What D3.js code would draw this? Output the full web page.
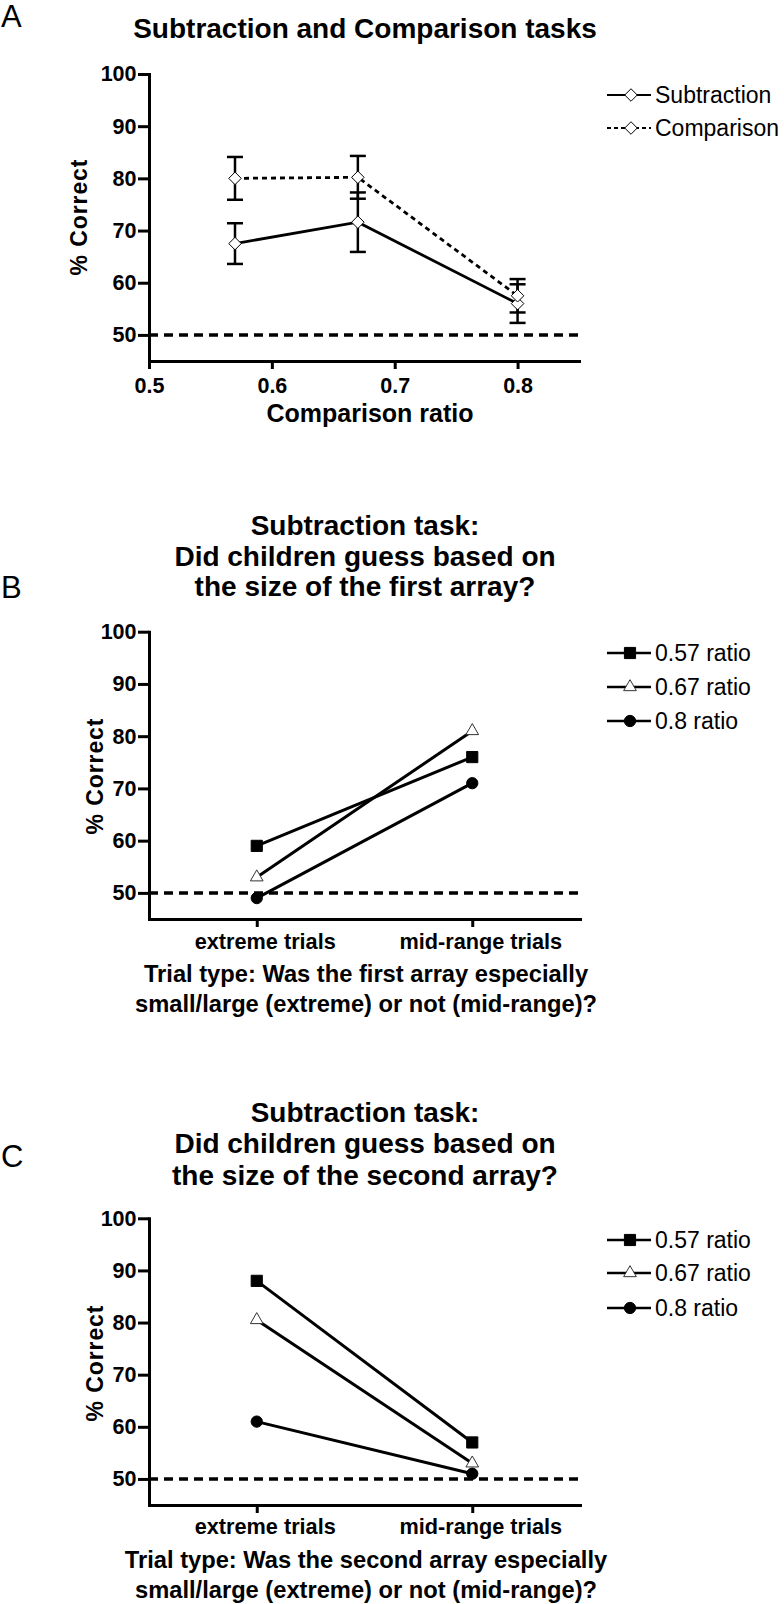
<!DOCTYPE html>
<html><head><meta charset="utf-8">
<script src="https://cdn.jsdelivr.net/npm/d3@7"></script>
<style>
body{margin:0;background:#fff}
text{font-family:"Liberation Sans",Arial,Helvetica,sans-serif;fill:#000}
</style>
</head><body>
<svg id="chart" width="784" height="1604"></svg>
<script>
// ---------- Data ----------
const comparisonRatios = [0.57, 0.67, 0.8];
const subtractionMean = [67.5, 71.6, 56.0];
const subtractionErr  = [3.9, 5.7, 3.7];
const comparisonMean  = [80.0, 80.2, 57.5];
const comparisonErr   = [4.1, 4.1, 3.2];
const xTicksA = [0.5, 0.6, 0.7, 0.8];
const yTicks = [50, 60, 70, 80, 90, 100];
const chanceLevel = 50;

const trialTypes = ["extreme trials", "mid-range trials"];
const ratioLabels = ["0.57 ratio", "0.67 ratio", "0.8 ratio"];
const firstArray057 = [59, 76];
const firstArray067 = [53, 81];
const firstArray08  = [49, 71];
const secondArray057 = [88, 57];
const secondArray067 = [80.5, 53];
const secondArray08  = [61, 51];

const svg = d3.select("#chart");
const BOLD = "bold";
const axisW = 3;
const tickFont = 21.5;

function styleAxis(g) {
  g.select(".domain").attr("stroke", "#000").attr("stroke-width", axisW).attr("stroke-linecap", "square");
  g.selectAll(".tick line").attr("stroke", "#000").attr("stroke-width", axisW);
  g.selectAll(".tick text").attr("font-size", tickFont).attr("font-weight", BOLD).attr("fill", "#000")
    .attr("font-family", '"Liberation Sans",Arial,sans-serif');
}

function titleLines(lines, baselines, cx) {
  lines.forEach((t, i) => {
    svg.append("text").attr("x", cx).attr("y", baselines[i]).attr("text-anchor", "middle")
      .attr("font-size", 28).attr("font-weight", BOLD).text(t);
  });
}
function panelLetter(l, y) {
  svg.append("text").attr("x", 1).attr("y", y).attr("font-size", 31).attr("font-weight", 300).text(l);
}
function yTitle(x, cy) {
  svg.append("text").attr("transform", `translate(${x},${cy}) rotate(-90)`).attr("text-anchor", "middle")
    .attr("font-size", 23).attr("font-weight", BOLD).attr("letter-spacing", 0.9).text("% Correct");
}

// ---------- Panel A ----------
panelLetter("A", 27);
titleLines(["Subtraction and Comparison tasks"], [38], 365);

const xA = d3.scaleLinear().domain([0.5, 0.85]).range([149, 579]);
const yA = d3.scaleLinear().domain([45, 100]).range([361, 74]);

svg.append("g").attr("transform", "translate(149,0)")
  .call(d3.axisLeft(yA).tickValues(yTicks).tickSize(11).tickSizeOuter(0).tickPadding(1.5))
  .call(styleAxis);
svg.append("g").attr("transform", "translate(0,361)")
  .call(d3.axisBottom(xA).tickValues(xTicksA).tickSize(8).tickSizeOuter(0).tickPadding(8.4).tickFormat(d3.format(".1f")))
  .call(styleAxis);

svg.append("line").attr("x1", 149).attr("x2", 580).attr("y1", yA(chanceLevel)).attr("y2", yA(chanceLevel))
  .attr("stroke", "#000").attr("stroke-width", 3.5).attr("stroke-dasharray", "9,6");

yTitle(87, 217);
svg.append("text").attr("x", 370).attr("y", 422).attr("text-anchor", "middle")
  .attr("font-size", 25).attr("font-weight", BOLD).text("Comparison ratio");

const diamond = d3.symbol().type(d3.symbolDiamond2).size(100);
function seriesA(means, errs, dash) {
  const pts = comparisonRatios.map((r, i) => ({x: r, y: means[i], e: errs[i]}));
  svg.append("path").datum(pts)
    .attr("d", d3.line().x(d => xA(d.x)).y(d => yA(d.y)))
    .attr("fill", "none").attr("stroke", "#000").attr("stroke-width", 2.8)
    .attr("stroke-dasharray", dash);
  const eb = svg.append("g");
  pts.forEach(d => {
    const cx = xA(d.x);
    eb.append("line").attr("x1", cx).attr("x2", cx).attr("y1", yA(d.y + d.e)).attr("y2", yA(d.y - d.e))
      .attr("stroke", "#000").attr("stroke-width", 2.5);
    [d.y + d.e, d.y - d.e].forEach(v => {
      eb.append("line").attr("x1", cx - 8).attr("x2", cx + 8).attr("y1", yA(v)).attr("y2", yA(v))
        .attr("stroke", "#000").attr("stroke-width", 2.5);
    });
  });
  return pts;
}
const ptsSub = seriesA(subtractionMean, subtractionErr, null);
const ptsCmp = seriesA(comparisonMean, comparisonErr, "5,4");
[ptsSub, ptsCmp].forEach(pts => {
  svg.append("g").selectAll("path").data(pts).join("path")
    .attr("d", diamond).attr("transform", d => `translate(${xA(d.x)},${yA(d.y)})`)
    .attr("fill", "#fff").attr("stroke", "#000").attr("stroke-width", 1);
});

// legend A
[["Subtraction", null, 95], ["Comparison", "4,3", 128]].forEach(([lab, dash, y]) => {
  svg.append("line").attr("x1", 607).attr("x2", 651).attr("y1", y).attr("y2", y)
    .attr("stroke", "#000").attr("stroke-width", 2.2).attr("stroke-dasharray", dash);
  svg.append("path").attr("d", diamond).attr("transform", `translate(631,${y})`)
    .attr("fill", "#fff").attr("stroke", "#000").attr("stroke-width", 1);
  svg.append("text").attr("x", 655).attr("y", y).attr("dy", "0.35em").attr("font-size", 23).text(lab);
});

// ---------- Panels B & C ----------
const markerSquare = d3.symbol().type(d3.symbolSquare).size(125);
const markerTri = d3.symbol().type(d3.symbolTriangle).size(70);
const markerCircle = d3.symbol().type(d3.symbolCircle).size(100);
const markers = [
  {sym: markerSquare, fill: "#000", stroke: "#000"},
  {sym: markerTri, fill: "#fff", stroke: "#333"},
  {sym: markerCircle, fill: "#000", stroke: "#000"}
];

function drawTrialPanel(cfg) {
  panelLetter(cfg.letter, cfg.letterY);
  titleLines(cfg.title, cfg.titleY, 365);
  const y = d3.scaleLinear().domain([45, 100]).range([cfg.bottom, cfg.top]);
  const x = d3.scalePoint().domain(trialTypes).range([149, 580]).padding(0.5);

  svg.append("g").attr("transform", "translate(149,0)")
    .call(d3.axisLeft(y).tickValues(yTicks).tickSize(11).tickSizeOuter(0).tickPadding(1.5))
    .call(styleAxis);
  const gx = svg.append("g").attr("transform", `translate(0,${cfg.bottom})`)
    .call(d3.axisBottom(x).tickSize(8).tickSizeOuter(0).tickPadding(cfg.tickPad))
    .call(styleAxis);
  gx.selectAll(".tick text").attr("dx", 8).attr("font-size", 21.7);

  svg.append("line").attr("x1", 149).attr("x2", 580).attr("y1", y(chanceLevel)).attr("y2", y(chanceLevel))
    .attr("stroke", "#000").attr("stroke-width", 3.5).attr("stroke-dasharray", "9,6");

  yTitle(103, cfg.yTitleY);
  cfg.xTitle.forEach((t, i) => {
    svg.append("text").attr("x", 366).attr("y", cfg.xTitleY[i]).attr("text-anchor", "middle")
      .attr("font-size", 23.7).attr("font-weight", BOLD).text(t);
  });

  cfg.series.forEach((vals) => {
    const pts = trialTypes.map((t, i) => ({t, v: vals[i]}));
    svg.append("path").datum(pts)
      .attr("d", d3.line().x(d => x(d.t)).y(d => y(d.v)))
      .attr("fill", "none").attr("stroke", "#000").attr("stroke-width", 3);
  });
  cfg.series.forEach((vals, si) => {
    const m = markers[si];
    svg.append("g").selectAll("path").data(trialTypes.map((t, i) => ({t, v: vals[i]}))).join("path")
      .attr("d", m.sym).attr("transform", d => `translate(${x(d.t)},${y(d.v)})`)
      .attr("fill", m.fill).attr("stroke", m.stroke).attr("stroke-width", 1);
  });

  ratioLabels.forEach((lab, i) => {
    const ly = cfg.legendY[i];
    svg.append("line").attr("x1", 607).attr("x2", 651).attr("y1", ly).attr("y2", ly)
      .attr("stroke", "#000").attr("stroke-width", 2.5);
    const m = markers[i];
    svg.append("path").attr("d", m.sym).attr("transform", `translate(630,${ly})`)
      .attr("fill", m.fill).attr("stroke", m.stroke).attr("stroke-width", 1);
    svg.append("text").attr("x", 655).attr("y", ly).attr("dy", "0.35em").attr("font-size", 23).text(lab);
  });
}

drawTrialPanel({
  letter: "B", letterY: 598,
  title: ["Subtraction task:", "Did children guess based on", "the size of the first array?"],
  titleY: [535, 566, 596],
  top: 631.7, bottom: 919, tickPad: 7,
  yTitleY: 776,
  xTitle: ["Trial type: Was the first array especially", "small/large (extreme) or not (mid-range)?"],
  xTitleY: [981.5, 1011.5],
  series: [firstArray057, firstArray067, firstArray08],
  legendY: [653, 687, 721]
});

drawTrialPanel({
  letter: "C", letterY: 1167,
  title: ["Subtraction task:", "Did children guess based on", "the size of the second array?"],
  titleY: [1121.5, 1153, 1185],
  top: 1218.3, bottom: 1505, tickPad: 6,
  yTitleY: 1363,
  xTitle: ["Trial type: Was the second array especially", "small/large (extreme) or not (mid-range)?"],
  xTitleY: [1568, 1598],
  series: [secondArray057, secondArray067, secondArray08],
  legendY: [1240, 1273, 1308]
});
</script>
</body></html>
